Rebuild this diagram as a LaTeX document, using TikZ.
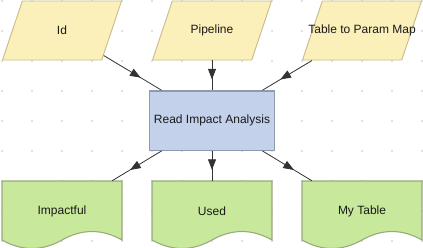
\documentclass[tikz,border=0pt]{standalone}
\usepackage{fontspec}
\setmainfont{Liberation Sans}
\usetikzlibrary{shapes.geometric,arrows.meta,decorations.markings}
\definecolor{amarelo}{HTML}{FBF0BA}
\definecolor{amareloborda}{HTML}{C9BD8B}
\definecolor{azul}{HTML}{C3D1EB}
\definecolor{azulborda}{HTML}{8F9AAD}
\definecolor{verde}{HTML}{C8E89B}
\definecolor{verdeborda}{HTML}{98A97E}
\definecolor{linha}{HTML}{333333}
\definecolor{ponto}{HTML}{D6D6D6}
\tikzset{
  texto/.style={font=\fontsize{9}{11}\selectfont, text=black!90},
  entrada/.style={trapezium, trapezium stretches=true, trapezium left angle=76,
    trapezium right angle=104, draw=amareloborda, fill=amarelo, line width=0.7pt,
    minimum width=89.25pt, minimum height=44.25pt, inner sep=2pt,
    label={[texto]center:#1}},
  processo/.style={rectangle, draw=azulborda, fill=azul, line width=1pt,
    minimum width=90pt, minimum height=44.5pt, texto},
  documento/.style={rectangle, minimum width=90pt, minimum height=45pt, texto},
  onda/.style={draw=verdeborda, fill=verde, line width=0.8pt},
  seta/.style={draw=linha, line width=0.6pt, postaction={decorate},
    decoration={markings, mark=at position 0.64 with {\arrow{Triangle[length=8pt,width=6pt]}}}}
}
\begin{document}
\begin{tikzpicture}[x=0.75pt, y=-0.75pt]
\useasboundingbox (0,0) rectangle (423,247);
% grade de pontos
\foreach \i in {0,...,14}
  \foreach \j in {0,...,8}
    \fill[ponto] ({2+30*\i},{1+30*\j}) circle (0.8pt);
% saidas (forma de documento)
\foreach \cx in {62,212,362}
  \draw[onda] ({\cx-60},181) -- ({\cx+60},181) -- ({\cx+60},240)
    .. controls ({\cx+40},228.7) and ({\cx+20},228.7) .. (\cx,240)
    .. controls ({\cx-20},251.3) and ({\cx-40},251.3) .. ({\cx-60},240) -- cycle;
% entradas
\node[entrada=Id] (id) at (62,30.5) {};
\node[entrada=Pipeline] (pipe) at (212,30.5) {};
\node[entrada=Table to Param Map] (mapa) at (362,30.5) {};
% bloco central
\node[processo] (leitura) at (212,120.5) {Read Impact Analysis};
% documentos
\node[documento] (impacto) at (62,211) {Impactful};
\node[documento] (usado) at (212,211) {Used};
\node[documento] (tabela) at (362,211) {My Table};
% ligacoes
\draw[seta] (id) -- (leitura);
\draw[seta] (pipe) -- (leitura);
\draw[seta] (mapa) -- (leitura);
\draw[seta] (leitura) -- (impacto);
\draw[seta] (leitura) -- (usado);
\draw[seta] (leitura) -- (tabela);
\end{tikzpicture}
\end{document}
